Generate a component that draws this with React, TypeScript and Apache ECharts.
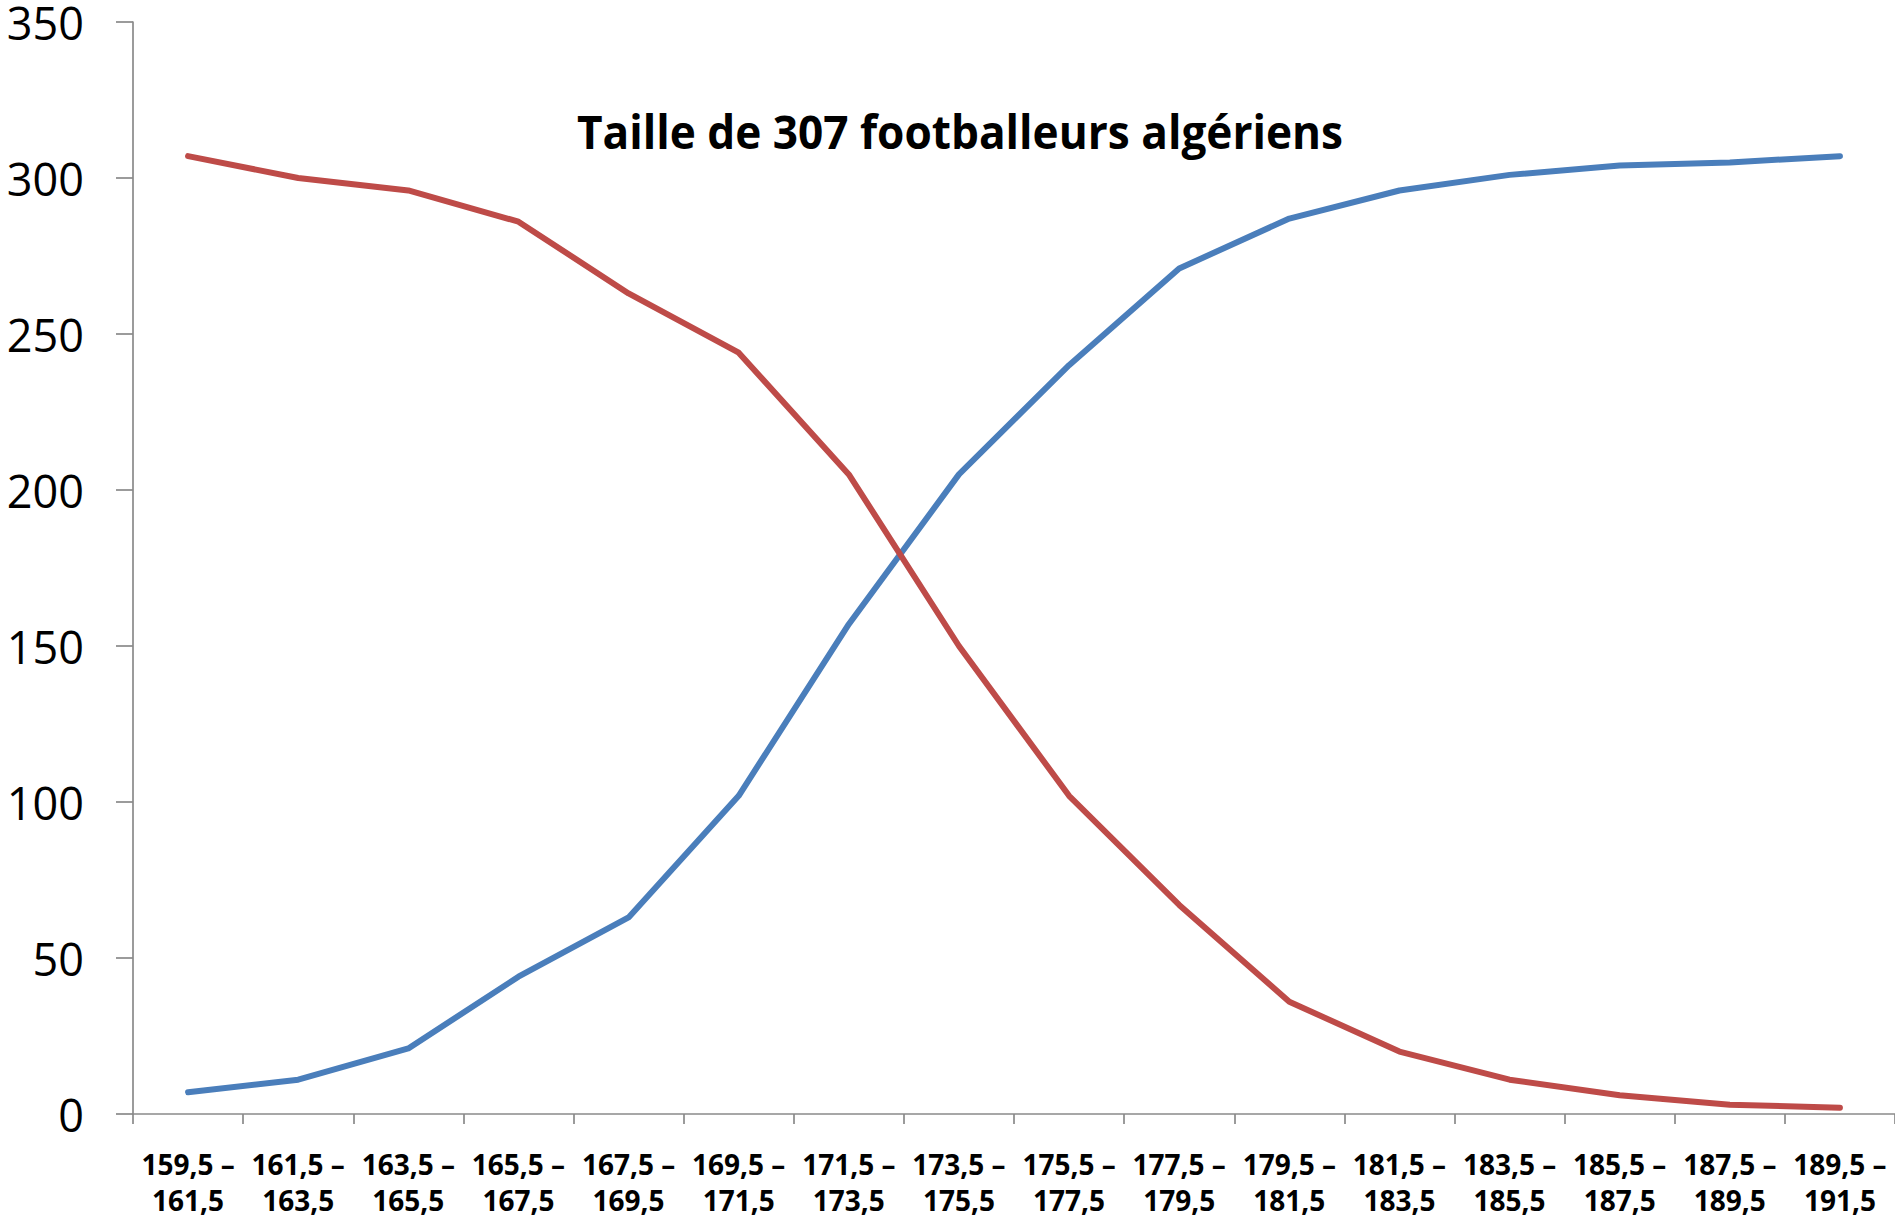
import React, { useEffect, useRef } from "react";
import * as echarts from "echarts";

const lowerBounds = ["159,5", "161,5", "163,5", "165,5", "167,5", "169,5", "171,5", "173,5", "175,5", "177,5", "179,5", "181,5", "183,5", "185,5", "187,5", "189,5"];
const upperBounds = ["161,5", "163,5", "165,5", "167,5", "169,5", "171,5", "173,5", "175,5", "177,5", "179,5", "181,5", "183,5", "185,5", "187,5", "189,5", "191,5"];
const cumulativeIncreasing = [7, 11, 21, 44, 63, 102, 157, 205, 240, 271, 287, 296, 301, 304, 305, 307];
const cumulativeDecreasing = [307, 300, 296, 286, 263, 244, 205, 150, 102, 67, 36, 20, 11, 6, 3, 2];
const yTicks = { min: 0, max: 350, interval: 50 };
const titleText = "Taille de 307 footballeurs algériens";

const categories = lowerBounds.map((lo, i) => `${lo} –\n${upperBounds[i]}`);

export default function App() {
  const ref = useRef<HTMLDivElement>(null);
  useEffect(() => {
    if (!ref.current) return;
    const chart = echarts.init(ref.current, undefined, { renderer: "svg" });
    const axisColor = "#8a8a8a";
    chart.setOption({
      animation: false,
      backgroundColor: "#ffffff",
      grid: { left: 133, right: 0, top: 22, bottom: 105, containLabel: false, outerBoundsMode: "none" },
      graphic: [
        {
          type: "text",
          x: 960,
          y: 130,
          scaleX: 0.94,
          style: {
            text: titleText,
            fontFamily: "'Open Sans', sans-serif",
            fontWeight: "bold",
            fontSize: 47,
            fill: "#000000",
            textAlign: "center",
            textVerticalAlign: "middle",
          },
        },
      ],
      xAxis: {
        type: "category",
        data: categories,
        boundaryGap: true,
        axisLine: { show: true, lineStyle: { color: axisColor, width: 1.7 } },
        axisTick: { show: true, length: 10, alignWithLabel: false, interval: 0, lineStyle: { color: axisColor, width: 1.7 } },
        axisLabel: {
          interval: 0,
          margin: 32,
          color: "#000000",
          fontFamily: "'Open Sans', sans-serif",
          fontWeight: "bold",
          fontSize: 28,
          lineHeight: 36,
        },
        splitLine: { show: false },
      },
      yAxis: {
        type: "value",
        min: yTicks.min,
        max: yTicks.max,
        interval: yTicks.interval,
        axisLine: { show: true, lineStyle: { color: axisColor, width: 1.7 } },
        axisTick: { show: true, length: 17, lineStyle: { color: axisColor, width: 1.7 } },
        axisLabel: {
          margin: 49,
          color: "#000000",
          fontFamily: "'Open Sans', sans-serif",
          fontSize: 45,
          lineHeight: 40,
        },
        splitLine: { show: false },
      },
      series: [
        {
          name: "Effectifs cumulés croissants",
          type: "line",
          data: cumulativeIncreasing,
          showSymbol: false,
          symbol: "none",
          lineStyle: { color: "#4A7EBB", width: 6, cap: "round", join: "round" },
          itemStyle: { color: "#4A7EBB" },
        },
        {
          name: "Effectifs cumulés décroissants",
          type: "line",
          data: cumulativeDecreasing,
          showSymbol: false,
          symbol: "none",
          lineStyle: { color: "#BE4B48", width: 6, cap: "round", join: "round" },
          itemStyle: { color: "#BE4B48" },
        },
      ],
    });
    return () => chart.dispose();
  }, []);
  return (
    <div
      ref={ref}
      style={{ position: "absolute", left: 0, top: 0, width: 1895, height: 1219, background: "#ffffff" }}
    />
  );
}
